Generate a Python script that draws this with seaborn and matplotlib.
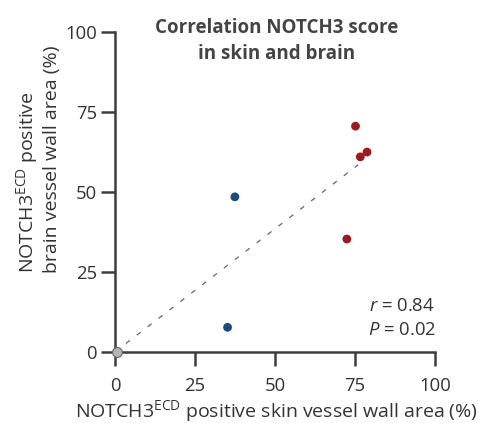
import matplotlib
matplotlib.use("Agg")
import matplotlib.pyplot as plt
import seaborn as sns
import pandas as pd

skin = [37.5, 35.2, 75.2, 76.7, 78.8, 72.5, 0.5]
brain = [48.5, 7.7, 70.6, 61.0, 62.5, 35.3, 0.0]
group = ["blue", "blue", "red", "red", "red", "red", "zero"]
line_x = [0, 76]
line_y = [0, 58.5]
ticks = [0, 25, 50, 75, 100]
title = "Correlation NOTCH3 score\nin skin and brain"

sns.set_theme(style="ticks")
plt.rcParams["font.family"] = ["Open Sans", "DejaVu Sans"]
plt.rcParams["mathtext.fontset"] = "custom"
plt.rcParams["mathtext.rm"] = "Open Sans"
plt.rcParams["mathtext.it"] = "Open Sans:italic"

dark = "#3d3d3d"
txt = "#333333"
df = pd.DataFrame({"skin": skin, "brain": brain, "group": group})

fig = plt.figure(figsize=(4.81, 4.23), dpi=100)
ax = fig.add_axes([0.239, 0.168, 0.665, 0.756])

ax.plot(line_x, line_y, linestyle=(0, (4, 7)), color="#666666", lw=0.9, zorder=1)
palette = {"blue": "#1b4a7e", "red": "#9b1b1e", "zero": "#b5b5b5"}
sns.scatterplot(data=df, x="skin", y="brain", hue="group", palette=palette,
                s=40, edgecolor="none", legend=False, ax=ax, zorder=3, clip_on=False)
z = df[df.group == "zero"]
ax.scatter(z.skin, z.brain, s=50, facecolor="#b5b5b5", edgecolor="#666666",
           linewidth=0.8, zorder=4, clip_on=False)

ax.set_xlim(0, 100)
ax.set_ylim(0, 100)
ax.set_xticks(ticks)
ax.set_yticks(ticks)
ax.set_xticklabels([str(t) for t in ticks])
ax.set_yticklabels([str(t) for t in ticks])
for s in ["top", "right"]:
    ax.spines[s].set_visible(False)
for s in ["left", "bottom"]:
    ax.spines[s].set_color(dark)
    ax.spines[s].set_linewidth(1.8)
ax.tick_params(axis="both", colors=dark, width=1.8, length=10, labelsize=13.3,
               labelcolor=txt)
ax.tick_params(axis="x", pad=8)
ax.tick_params(axis="y", pad=3)

ax.set_xlabel(r"NOTCH3$^{\mathrm{ECD}}$ positive skin vessel wall area (%)",
              fontsize=14, color=txt)
ax.xaxis.set_label_coords(0.505, -0.145)
ax.set_ylabel("NOTCH3$^{\\mathrm{ECD}}$ positive\nbrain vessel wall area (%)",
              fontsize=14, color=txt, linespacing=1.15, multialignment="left")
ax.yaxis.set_label_coords(-0.17, 0.603)

ax.text(1.0, 0.145, r"$\mathit{r}$ = 0.84", transform=ax.transAxes, ha="right",
        va="center", fontsize=13.3, color=txt)
ax.text(1.005, 0.068, r"$\mathit{P}$ = 0.02", transform=ax.transAxes, ha="right",
        va="center", fontsize=13.3, color=txt)

fig.text(0.576, 0.958, title, ha="center", va="top", fontsize=13.5,
         fontweight="bold", color="#444444", linespacing=1.4)

fig.savefig("out.png", dpi=100)
